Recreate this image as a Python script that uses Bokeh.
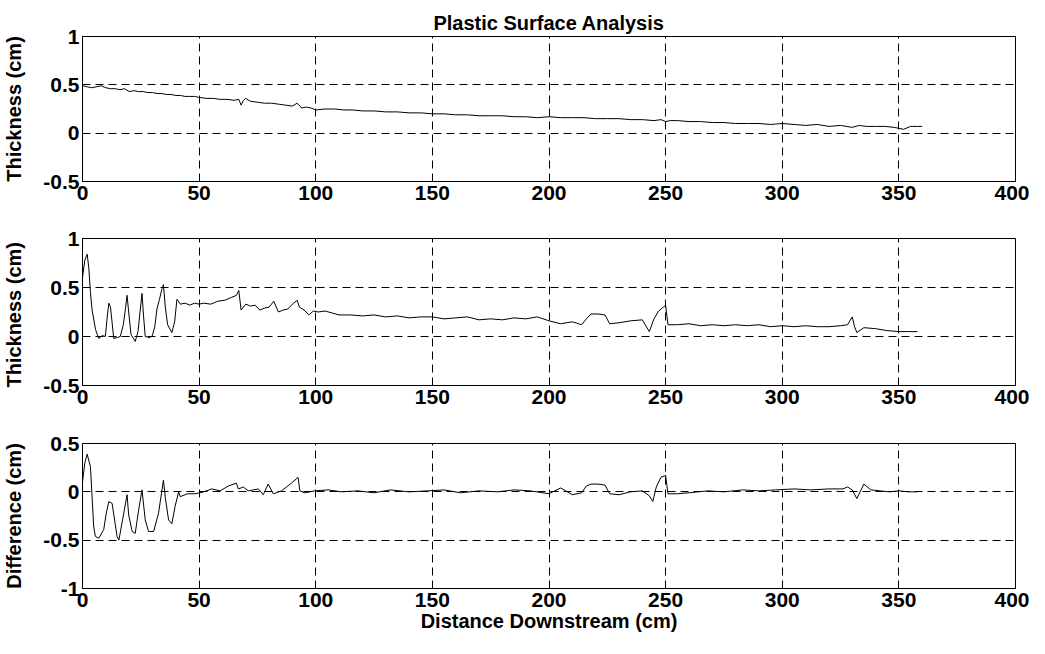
from bokeh.plotting import figure
from bokeh.layouts import column
from bokeh.models import FixedTicker, Range1d
from bokeh.embed import file_html
from bokeh.resources import INLINE

# ---------------- data ----------------
TITLE = "Plastic Surface Analysis"
X_LABEL = "Distance Downstream (cm)"
Y_LABELS = ["Thickness (cm)", "Thickness  (cm)", "Difference (cm)"]
X_TICKS = [0, 50, 100, 150, 200, 250, 300, 350, 400]
Y_TICKS_THICK = [-0.5, 0, 0.5, 1]
Y_TICK_LABELS_THICK = ["-0.5", "0", "0.5", "1"]
Y_TICKS_DIFF = [-1, -0.5, 0, 0.5]
Y_TICK_LABELS_DIFF = ["-1", "-0.5", "0", "0.5"]

# top panel: thickness (original surface)
dist_top = [0, 2, 4, 6, 8, 10, 12, 14, 16, 18, 20, 22, 24, 26, 28, 30, 32, 34, 36, 38,
            40, 42, 44, 46, 48, 50, 53, 56, 59, 62, 65, 67, 68, 69, 70, 72, 75, 78, 81,
            84, 87, 90, 92, 94, 96, 98, 100, 104, 108, 112, 116, 120, 125, 130, 135,
            140, 145, 150, 155, 160, 165, 170, 175, 180, 185, 190, 195, 200, 205, 210,
            215, 220, 225, 230, 235, 240, 245, 248, 250, 252, 255, 260, 265, 270, 275,
            280, 285, 290, 295, 300, 305, 310, 315, 320, 325, 330, 333, 336, 340, 344,
            348, 350, 352, 355, 358, 360]
thick_top = [0.49, 0.48, 0.47, 0.48, 0.49, 0.47, 0.46, 0.46, 0.45, 0.46, 0.43, 0.44,
             0.43, 0.43, 0.42, 0.42, 0.41, 0.41, 0.40, 0.40, 0.39, 0.39, 0.38, 0.38,
             0.38, 0.37, 0.36, 0.36, 0.35, 0.35, 0.34, 0.35, 0.29, 0.34, 0.36, 0.33,
             0.32, 0.31, 0.31, 0.30, 0.29, 0.28, 0.31, 0.26, 0.27, 0.26, 0.24, 0.25,
             0.25, 0.24, 0.24, 0.23, 0.23, 0.22, 0.22, 0.21, 0.21, 0.20, 0.20, 0.19,
             0.19, 0.18, 0.18, 0.18, 0.17, 0.17, 0.16, 0.17, 0.16, 0.16, 0.16, 0.15,
             0.15, 0.15, 0.14, 0.14, 0.13, 0.14, 0.12, 0.13, 0.13, 0.12, 0.12, 0.11,
             0.11, 0.10, 0.10, 0.10, 0.09, 0.10, 0.09, 0.08, 0.09, 0.07, 0.08, 0.06,
             0.08, 0.07, 0.07, 0.07, 0.06, 0.05, 0.04, 0.07, 0.07, 0.07]

# middle panel: thickness (second surface)
dist_mid = [0, 1, 2, 2.7, 3.4, 4.1, 5.6, 7, 8.5, 9.8, 10.6, 11.3, 12, 13.4, 15, 16.2,
            17.5, 18.5, 19.1, 19.8, 20.8, 22.6, 23.8, 24.8, 25.5, 26.2, 26.9, 28.5,
            29.8, 31, 31.9, 33, 34, 34.7, 35.5, 36.5, 38.3, 39.5, 40.5, 42, 44, 46, 48,
            50, 52, 55, 58, 61, 64, 66, 67, 68, 70, 72, 74, 76, 78, 80, 82, 84, 86, 88,
            90, 92, 93, 95, 97, 99, 101, 104, 107, 110, 115, 120, 125, 130, 135, 140,
            145, 150, 155, 160, 165, 170, 175, 180, 185, 190, 195, 200, 205, 210, 214,
            216, 218, 221, 224, 226, 230, 235, 240, 243, 245, 247, 249, 250, 251, 255,
            260, 265, 270, 275, 280, 285, 290, 295, 300, 305, 310, 315, 320, 325, 328,
            330, 331, 332, 335, 340, 345, 350, 354, 358]
thick_mid = [0.60, 0.78, 0.84, 0.70, 0.45, 0.27, 0.07, -0.02, 0.01, 0.00, 0.20, 0.34,
             0.30, -0.02, -0.01, 0.00, 0.12, 0.30, 0.42, 0.25, 0.02, -0.05, 0.05, 0.28,
             0.44, 0.20, 0.00, -0.01, 0.00, 0.10, 0.28, 0.38, 0.48, 0.53, 0.30, 0.12,
             0.04, 0.15, 0.38, 0.33, 0.34, 0.32, 0.34, 0.33, 0.34, 0.33, 0.36, 0.37,
             0.40, 0.42, 0.47, 0.27, 0.33, 0.31, 0.32, 0.27, 0.29, 0.30, 0.36, 0.25,
             0.27, 0.28, 0.33, 0.37, 0.30, 0.27, 0.22, 0.26, 0.25, 0.26, 0.24, 0.22,
             0.22, 0.21, 0.22, 0.20, 0.21, 0.19, 0.20, 0.20, 0.18, 0.19, 0.20, 0.17,
             0.18, 0.17, 0.19, 0.18, 0.20, 0.16, 0.13, 0.15, 0.12, 0.18, 0.23, 0.23,
             0.22, 0.13, 0.14, 0.16, 0.17, 0.05, 0.18, 0.26, 0.30, 0.32, 0.12, 0.12,
             0.13, 0.11, 0.12, 0.11, 0.12, 0.11, 0.12, 0.10, 0.11, 0.10, 0.11, 0.10,
             0.10, 0.11, 0.12, 0.20, 0.10, 0.04, 0.09, 0.08, 0.06, 0.05, 0.05, 0.05]

# bottom panel: difference
dist_diff = [0, 1, 2, 3.4, 4.8, 5.5, 7, 9.1, 10.2, 11.3, 12.7, 14.8, 15.6, 17.7, 19.1,
             19.8, 21.3, 22.6, 24, 25.5, 26.9, 28.3, 30.5, 32.6, 34.7, 35.5, 36.9, 38.3,
             39.7, 41.2, 41.9, 45, 48.3, 52, 55.4, 59, 62.5, 66, 66.8, 69, 71.1, 75.4,
             77.5, 79.6, 81.8, 85.3, 89.6, 92.4, 93.2, 95.3, 99.6, 105.3, 111, 118, 125,
             132, 140, 148, 155, 162, 170, 178, 185, 192, 200, 205, 210, 214, 216, 218,
             221, 224, 226, 230, 235, 240, 243, 244.5, 246, 248, 250, 251, 255, 260, 268,
             275, 283, 290, 297, 305, 312, 320, 326, 328, 330, 332, 335, 338, 342, 346,
             350, 354, 358]
diff_vals = [0.10, 0.30, 0.39, 0.26, -0.36, -0.46, -0.48, -0.39, -0.22, -0.10, -0.12,
             -0.46, -0.50, -0.22, -0.03, -0.24, -0.41, -0.43, -0.20, 0.02, -0.29, -0.41,
             -0.41, -0.22, 0.12, -0.06, -0.29, -0.33, -0.15, 0.00, -0.05, -0.02, -0.02,
             0.00, 0.03, 0.01, 0.06, 0.09, 0.03, 0.05, 0.01, 0.03, -0.03, 0.08, -0.02,
             0.01, 0.09, 0.15, 0.01, -0.01, 0.01, 0.02, 0.00, 0.01, -0.01, 0.02, 0.00,
             0.01, 0.02, -0.01, 0.01, 0.00, 0.02, 0.01, -0.02, 0.04, -0.03, -0.01, 0.06,
             0.08, 0.08, 0.07, -0.02, -0.03, 0.00, 0.01, -0.04, -0.10, 0.05, 0.15, 0.17,
             -0.02, -0.02, -0.01, 0.01, 0.00, 0.02, 0.01, 0.02, 0.03, 0.02, 0.03, 0.03,
             0.05, 0.02, -0.07, 0.08, 0.02, 0.01, 0.00, 0.01, 0.00, 0.00]

# ---------------- styling helpers ----------------
FONT = "Liberation Sans"
FS_TICK = "21px"
FS_LABEL = "20px"
FS_TITLE = "20px"
W = 1029
LEFT, RIGHT = 79, 14


def make_panel(height, top, bottom, yr, yticks, ytick_labels, ylabel, xs, ys,
               title=None, xlabel=None):
    p = figure(width=W, height=height, output_backend="svg", toolbar_location=None,
               x_range=Range1d(0, 400), y_range=Range1d(yr[0], yr[1]),
               min_border_left=LEFT, min_border_right=RIGHT,
               min_border_top=top, min_border_bottom=bottom,
               title=title)
    p.line(xs, ys, line_color="black", line_width=1)
    p.outline_line_color = "black"
    p.outline_line_width = 1
    p.background_fill_color = "white"
    p.border_fill_color = "white"

    p.xaxis.ticker = FixedTicker(ticks=X_TICKS)
    p.yaxis.ticker = FixedTicker(ticks=yticks)
    p.yaxis.major_label_overrides = {t: l for t, l in zip(yticks, ytick_labels)}
    for ax in (p.xaxis, p.yaxis):
        ax.major_tick_in = 6
        ax.major_tick_out = 0
        ax.minor_tick_line_color = None
        ax.axis_line_color = "black"
        ax.major_tick_line_color = "black"
        ax.major_label_text_font = FONT
        ax.major_label_text_font_size = FS_TICK
        ax.major_label_text_font_style = "bold"
        ax.major_label_text_color = "black"
        ax.axis_label_text_font = FONT
        ax.axis_label_text_font_size = FS_LABEL
        ax.axis_label_text_font_style = "bold"
        ax.axis_label_text_color = "black"
    p.xaxis.major_label_standoff = 4
    p.yaxis.major_label_standoff = 3
    p.yaxis.axis_label = ylabel
    p.yaxis.axis_label_standoff = 15
    if xlabel:
        p.xaxis.axis_label = xlabel
        p.xaxis.axis_label_standoff = 0

    for g in (p.xgrid, p.ygrid):
        g.grid_line_color = "black"
        g.grid_line_dash = "8 5"
        g.grid_line_width = 1

    if title:
        p.title.align = "center"
        p.title.text_font = FONT
        p.title.text_font_size = FS_TITLE
        p.title.text_font_style = "bold"
        p.title.text_color = "black"
        p.title.standoff = 6
    return p


p1 = make_panel(36 + 145 + 32, 36, 32, (-0.5, 1), Y_TICKS_THICK, Y_TICK_LABELS_THICK,
                Y_LABELS[0], dist_top, thick_top, title=TITLE)
p2 = make_panel(25 + 147 + 32, 25, 32, (-0.5, 1), Y_TICKS_THICK, Y_TICK_LABELS_THICK,
                Y_LABELS[1], dist_mid, thick_mid)
p3 = make_panel(26 + 145 + 50, 26, 50, (-1, 0.5), Y_TICKS_DIFF, Y_TICK_LABELS_DIFF,
                Y_LABELS[2], dist_diff, diff_vals, xlabel=X_LABEL)

layout = column(p1, p2, p3, spacing=0)
open("out.html", "w").write(file_html(layout, INLINE))
